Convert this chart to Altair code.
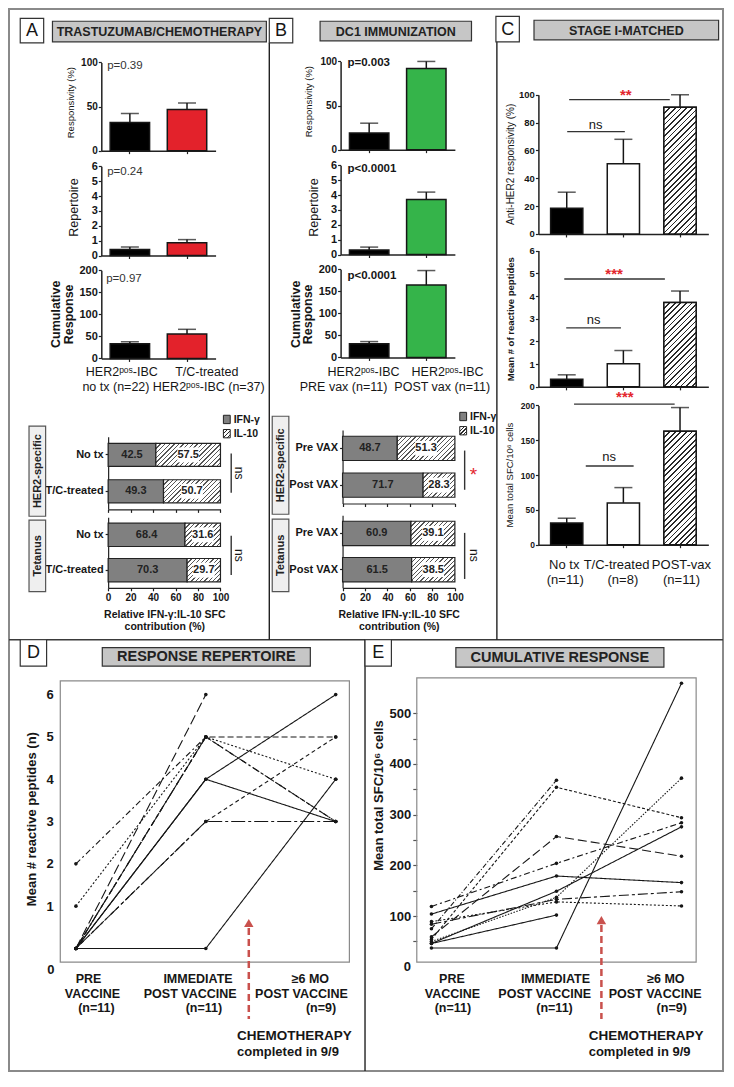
import math
import altair as alt
import pandas as pd

# ---------------- canvas / reference-pixel mapping ----------------
W, H = 716, 1064
SX = (W - 2) / 731.0
SY = (H - 2) / 1083.5
FONT = "Liberation Sans"
INK = "#161616"
RED_TXT = "#e3262d"
ARROW = "#c9514d"


def X(r):
    return round(1 + (r - 1.5) * SX, 2)


def Y(r):
    return round(1 + (r - 1.5) * SY, 2)


# ---------------- data ----------------
# Panel A: trastuzumab/chemotherapy
a_groups = ["HER2pos-IBC no tx", "T/C-treated HER2pos-IBC"]
a_colors = ["#000000", "#e3222b"]
a_resp = [32, 46.5]
a_resp_err = [10, 7.5]
a_rep = [0.4, 0.85]
a_rep_err = [0.18, 0.22]
a_cum = [33, 55.5]
a_cum_err = [5, 10.5]
a_pvalues = ["p=0.39", "p=0.24", "p=0.97"]

# Panel B: DC1 immunization
b_groups = ["HER2pos-IBC PRE vax", "HER2pos-IBC POST vax"]
b_colors = ["#000000", "#35b44a"]
b_resp = [19, 92]
b_resp_err = [11, 8]
b_rep = [0.3, 3.7]
b_rep_err = [0.2, 0.5]
b_cum = [31, 164]
b_cum_err = [5, 33]
b_pvalues = ["p=0.003", "p<0.0001", "p<0.0001"]

# Panel C: stage I-matched
c_groups = ["No tx", "T/C-treated", "POST-vax"]
c_counts = ["(n=11)", "(n=8)", "(n=11)"]
c_colors = ["#000000", "#ffffff", "#ffffff"]
c_resp = [18.5, 50.5, 91]
c_resp_err = [11.5, 17.5, 9]
c_rep = [0.33, 1.02, 3.72]
c_rep_err = [0.2, 0.58, 0.5]
c_cum = [31, 60, 163]
c_cum_err = [7, 22, 34]

# IFN-gamma : IL-10 ratios (IFN-gamma share, %)
ratio_a_rows = ["No tx", "T/C-treated"]
ratio_b_rows = ["Pre VAX", "Post VAX"]
a_her2_ifn = [42.5, 49.3]
a_tet_ifn = [68.4, 70.3]
b_her2_ifn = [48.7, 71.7]
b_tet_ifn = [60.9, 61.5]

# Panels D/E: per-patient kinetics (pre, immediate post, >=6 mo post)
timepoints = [0, 1, 2]
d_pre = [2, 1, 0, 0, 0, 0, 0, 0, 0, 0, 0]
d_post = [5, 5, 6, 5, 5, 5, 4, 4, 3, 3, 0]
d_6mo = [3, 4, None, 5, 3, None, 6, 3, 5, 3, 4]

e_pre = [37, 54, 119, 59, 104, 46, 50, 84, 89, 46, 75]
e_post = [37, 354, 204, 257, 179, 149, 137, 133, 128, 102, 368]
e_6mo = [559, 294, 284, 218, 166, 276, 372, 148, 120, None, None]

# line styles
d_dashes = [[6, 3, 2, 3], [2, 2], [10, 4], [6, 3], [8, 3, 2, 3], [5, 3],
            [1, 0], [1, 0], [4, 3], [14, 3, 3, 3], [1, 0]]
e_dashes = [[1, 0], [3, 2], [6, 3, 2, 3], [9, 4], [1, 0], [1, 0],
            [1.5, 1.5], [10, 3, 3, 3], [2, 2], [1, 0], [5, 2, 1, 2]]

ONE = pd.DataFrame({"k": [0]})
SUP = "\u1d56\u1d52\u02e2"


# ---------------- helpers ----------------
def hatch(w, h, period=3.6, frac=0.32, dark="#2a2a2a", light="#ffffff"):
    w = max(w, 1.0)
    h = max(h, 1.0)
    k = (w + h) / (w * w + h * h)
    x2, y2 = w * k, h * k
    L = (w + h) / math.sqrt(2)
    n = max(1, int(round(L / period)))
    stops = []
    for i in range(n):
        a = round(i / n, 5)
        b = round((i + frac) / n, 5)
        c = round((i + 1) / n, 5)
        stops += [alt.GradientStop(offset=a, color=dark),
                  alt.GradientStop(offset=b, color=dark),
                  alt.GradientStop(offset=b, color=light),
                  alt.GradientStop(offset=c, color=light)]
    return alt.LinearGradient(gradient="linear", stops=stops, x1=0, y1=0,
                              x2=round(x2, 5), y2=round(y2, 5))


def txt(s, x, y, size=12, weight="normal", align="center", angle=None,
        color=INK, baseline="middle"):
    kw = dict(text=s, fontSize=size, fontWeight=weight, align=align,
              baseline=baseline, color=color, font=FONT)
    if angle is not None:
        kw["angle"] = angle
    return alt.Chart(ONE).mark_text(**kw).encode(x=alt.value(X(x)), y=alt.value(Y(y)))


def box(x0, y0, x1, y1, fill="white", stroke="#333333", sw=1.2, fo=1):
    return alt.Chart(ONE).mark_rect(fill=fill, fillOpacity=fo, stroke=stroke,
                                    strokeWidth=sw).encode(
        x=alt.value(X(x0)), x2=alt.value(X(x1)), y=alt.value(Y(y0)), y2=alt.value(Y(y1)))


def line(x0, y0, x1, y1, color="#222222", sw=1.4, dash=None):
    kw = dict(color=color, strokeWidth=sw)
    if dash:
        kw["strokeDash"] = dash
    return alt.Chart(ONE).mark_rule(**kw).encode(
        x=alt.value(X(x0)), x2=alt.value(X(x1)), y=alt.value(Y(y0)), y2=alt.value(Y(y1)))


def bar_panel(groups, vals, errs, colors, ymax, yticks, yr, xr, pi, lab_size,
              hatch_idx=None, notes=()):
    df = pd.DataFrame({"grp": groups, "v": vals,
                       "hi": [v + e for v, e in zip(vals, errs)], "col": colors})
    xs = alt.Scale(domain=groups, range=[X(xr[0]), X(xr[1])],
                   paddingInner=pi, paddingOuter=pi / 2)
    ys = alt.Scale(domain=[0, ymax], range=[Y(yr[0]), Y(yr[1])], nice=False, zero=False)
    xax = alt.Axis(orient="bottom", offset=round(Y(yr[0]) - H, 2), labels=False,
                   title=None, tickSize=3, domainWidth=1.5)
    yax = alt.Axis(orient="left", offset=-X(xr[0]), values=yticks, title=None,
                   tickSize=3, labelPadding=1, labelFontSize=lab_size,
                   labelFontWeight="bold", domainWidth=1.5)
    xe = alt.X("grp:N", scale=xs, axis=xax)
    base = alt.Chart(df)
    layers = [base.mark_bar(stroke=INK, strokeWidth=1.5).encode(
        x=xe, y=alt.Y("v:Q", scale=ys, axis=yax), fill=alt.Fill("col:N", scale=None))]
    if hatch_idx is not None:
        n = len(groups)
        bw = (xr[1] - xr[0]) / n * (1 - pi) * SX
        hpx = vals[hatch_idx] / ymax * (yr[0] - yr[1]) * SY
        layers.append(alt.Chart(df.iloc[[hatch_idx]]).mark_bar(
            fill=hatch(bw, hpx, period=4.0, frac=0.3), stroke=INK, strokeWidth=1.5).encode(
            x=xe, y=alt.Y("v:Q", scale=ys, axis=yax)))
    layers.append(base.mark_rule(color=INK, strokeWidth=1.5).encode(
        x=xe, y=alt.Y("v:Q", scale=ys, axis=yax), y2=alt.Y2("hi")))
    layers.append(base.mark_tick(color=INK, size=18, thickness=1.5).encode(
        x=xe, y=alt.Y("hi:Q", scale=ys, axis=yax)))
    for note in notes:
        if note[0] == "rule":
            _, x0, x1, val = note
            layers.append(alt.Chart(ONE).mark_rule(color="#333333", strokeWidth=1.3).encode(
                x=alt.value(X(x0)), x2=alt.value(X(x1)),
                y=alt.Y(datum=val, type="quantitative", scale=ys, axis=yax)))
        else:
            _, s, x, val, size, color = note
            layers.append(alt.Chart(ONE).mark_text(
                text=s, fontSize=size, color=color, font=FONT, baseline="middle",
                fontWeight="bold" if "*" in s else "normal").encode(
                x=alt.value(X(x)),
                y=alt.Y(datum=val, type="quantitative", scale=ys, axis=yax)))
    return alt.layer(*layers)


def ratio_panel(rows, ifn, xr, yr, pi, po, show_labels, title=None):
    il = [round(100 - v, 1) for v in ifn]
    n = len(rows)
    df = pd.DataFrame({"row": rows, "zero": [0] * n, "ifn": ifn, "full": [100] * n,
                       "mid_ifn": [v / 2 for v in ifn],
                       "mid_il": [(v + 100) / 2 for v in ifn],
                       "t_ifn": [f"{v:.1f}" for v in ifn],
                       "t_il": [f"{v:.1f}" for v in il]})
    xs = alt.Scale(domain=[0, 100], range=[X(xr[0]), X(xr[1])], nice=False, zero=False)
    ys = alt.Scale(domain=rows, range=[Y(yr[0]), Y(yr[1])],
                   paddingInner=pi, paddingOuter=po)
    xkw = dict(orient="bottom", offset=round(Y(yr[1]) - H, 2),
               values=[0, 20, 40, 60, 80, 100], labels=show_labels, tickSize=3,
               labelFontSize=10, labelFontWeight="bold", labelPadding=2,
               domainWidth=1.2)
    if title:
        xkw.update(title=title, titleFontSize=10.5, titleFontWeight="bold",
                   titlePadding=7, titleLineHeight=12, titleColor=INK)
    else:
        xkw.update(title=None)
    xax = alt.Axis(**xkw)
    yax = alt.Axis(orient="left", offset=-X(xr[0]), title=None, tickSize=3,
                   labelFontSize=11, labelFontWeight="bold", labelPadding=2,
                   domainWidth=1.2)
    ye = alt.Y("row:N", scale=ys, axis=yax)
    step = (yr[1] - yr[0]) / (n - pi + 2 * po)
    bw = step * (1 - pi) * SY
    layers = [alt.Chart(df).mark_bar(fill="#808080", stroke="#222222", strokeWidth=1.2).encode(
        y=ye, x=alt.X("zero:Q", scale=xs, axis=xax), x2=alt.X2("ifn"))]
    for i in range(n):
        w = il[i] / 100 * (xr[1] - xr[0]) * SX
        layers.append(alt.Chart(df.iloc[[i]]).mark_bar(
            fill=hatch(w, bw, period=3.2, frac=0.3, dark="#555555"),
            stroke="#222222", strokeWidth=1.2).encode(
            y=ye, x=alt.X("ifn:Q", scale=xs, axis=xax), x2=alt.X2("full")))
    layers.append(alt.Chart(df).mark_point(
        shape="M-1.45,-1L1.45,-1L1.45,1L-1.45,1Z", size=225, filled=True,
        fill="white", opacity=1, strokeWidth=0).encode(
        y=ye, x=alt.X("mid_il:Q", scale=xs, axis=xax)))
    layers.append(alt.Chart(df).mark_text(fontSize=11, fontWeight="bold", color="#222222",
                                          baseline="middle", font=FONT).encode(
        y=ye, x=alt.X("mid_ifn:Q", scale=xs, axis=xax), text="t_ifn:N"))
    layers.append(alt.Chart(df).mark_text(fontSize=11, fontWeight="bold", color="#222222",
                                          baseline="middle", font=FONT).encode(
        y=ye, x=alt.X("mid_il:Q", scale=xs, axis=xax), text="t_il:N"))
    return alt.layer(*layers)


def line_panel(series, dashes, xr, yr, ydom, yax, zero_val, zero_x):
    rows = []
    npat = len(series[0])
    pids = [f"p{i:02d}" for i in range(npat)]
    for i, vals in enumerate(zip(*series)):
        for t, v in zip(timepoints, vals):
            if v is not None:
                rows.append({"pid": pids[i], "t": t, "v": v})
    df = pd.DataFrame(rows)
    xs = alt.Scale(domain=[0, 2], range=[X(xr[0]), X(xr[1])], nice=False, zero=False)
    ys = alt.Scale(domain=ydom, range=[Y(yr[0]), Y(yr[1])], nice=False, zero=False)
    xe = alt.X("t:Q", scale=xs, axis=None)
    lines = alt.Chart(df).mark_line(color=INK, strokeWidth=1.1).encode(
        x=xe, y=alt.Y("v:Q", scale=ys, axis=yax),
        strokeDash=alt.StrokeDash("pid:N", scale=alt.Scale(domain=pids, range=dashes),
                                  legend=None),
        order="t:Q")
    pts = alt.Chart(df).mark_circle(size=13, color=INK, opacity=1).encode(
        x=xe, y=alt.Y("v:Q", scale=ys, axis=yax))
    zero = alt.Chart(ONE).mark_text(text="0", fontSize=13, fontWeight="bold", align="right",
                                    baseline="middle", color=INK, font=FONT).encode(
        x=alt.value(X(zero_x)),
        y=alt.Y(datum=zero_val, type="quantitative", scale=ys, axis=yax))
    return alt.layer(lines, pts, zero)


L = []

# ---------------- frame, dividers, headers ----------------
L.append(box(1.5, 1.5, 732.5, 1085, fill="white", stroke="#8a8a8a", sw=2, fo=0))
L.append(line(1.5, 645, 732.5, 645, color="#3a3a3a", sw=1.6))
L.append(line(268, 36, 268, 645))
L.append(line(501, 35, 501, 645))
L.append(line(366, 645, 366, 1085))

for (x0, y0, x1, y1, lab) in [(13, 11, 37, 36, "A"), (268, 11, 292, 36, "B"),
                              (500, 9, 524, 35, "C"), (13, 645, 40, 672, "D"),
                              (366, 645, 393, 672, "E")]:
    L.append(box(x0, y0, x1, y1, fill="white", stroke="#333333", sw=1.2))
    L.append(txt(lab, (x0 + x1) / 2, (y0 + y1) / 2 + 0.5, size=18))

for (x0, y0, x1, y1, lab, fs) in [(46, 14, 265, 35, "TRASTUZUMAB/CHEMOTHERAPY", 12.5),
                                  (320, 14, 475, 34, "DC1 IMMUNIZATION", 12.5),
                                  (539, 13, 728, 33, "STAGE I-MATCHED", 12.5),
                                  (97, 653, 310, 672, "RESPONSE REPERTOIRE", 14.5),
                                  (459, 653, 672, 673, "CUMULATIVE RESPONSE", 14.5)]:
    L.append(box(x0, y0, x1, y1, fill="#c6c6c6", stroke="#333333", sw=1.2))
    L.append(txt(lab, (x0 + x1) / 2, (y0 + y1) / 2 + 0.5, size=fs, weight="bold",
                 color="#222222"))

# ---------------- Panel A ----------------
L.append(bar_panel(a_groups, a_resp, a_resp_err, a_colors, 100, [0, 50, 100],
                   (146, 56), (96, 213), 0.31, 10))
L.append(bar_panel(a_groups, a_rep, a_rep_err, a_colors, 6, [0, 1, 2, 3, 4, 5, 6],
                   (253, 162), (96, 213), 0.31, 11))
L.append(bar_panel(a_groups, a_cum, a_cum_err, a_colors, 200, [0, 50, 100, 150, 200],
                   (358, 268), (96, 213), 0.31, 11))
L.append(txt(a_pvalues[0], 102, 60, size=11.5, align="left", color="#333333"))
L.append(txt(a_pvalues[1], 102, 168, size=11.5, align="left", color="#333333"))
L.append(txt(a_pvalues[2], 101, 277, size=11.5, align="left", color="#333333"))
L.append(txt("Responsivity (%)", 65, 97, size=9.5, angle=270))
L.append(txt("Repertoire", 68, 204, size=12.5, angle=270))
L.append(txt("Cumulative", 50, 313, size=12.5, weight="bold", angle=270))
L.append(txt("Response", 62.5, 313, size=12.5, weight="bold", angle=270))
L.append(txt("HER2" + SUP + "-IBC", 117, 372, size=12.5))
L.append(txt("T/C-treated", 204, 372, size=12.5))
L.append(txt("no tx (n=22)", 111, 387, size=12.5))
L.append(txt("HER2" + SUP + "-IBC (n=37)", 206, 387, size=12.5))

# ---------------- Panel B ----------------
L.append(bar_panel(b_groups, b_resp, b_resp_err, b_colors, 100, [0, 50, 100],
                   (145, 55), (341, 458), 0.31, 10))
L.append(bar_panel(b_groups, b_rep, b_rep_err, b_colors, 6, [0, 1, 2, 3, 4, 5, 6],
                   (252, 161), (341, 458), 0.31, 11))
L.append(bar_panel(b_groups, b_cum, b_cum_err, b_colors, 200, [0, 50, 100, 150, 200],
                   (357, 267), (341, 458), 0.31, 11))
L.append(txt(b_pvalues[0], 348, 57, size=11.5, weight="bold", align="left"))
L.append(txt(b_pvalues[1], 348, 165, size=11.5, weight="bold", align="left"))
L.append(txt(b_pvalues[2], 348, 274, size=11.5, weight="bold", align="left"))
L.append(txt("Responsivity (%)", 309, 96, size=9.5, angle=270))
L.append(txt("Repertoire", 314, 204, size=12.5, angle=270))
L.append(txt("Cumulative", 295, 313, size=12.5, weight="bold", angle=270))
L.append(txt("Response", 307.5, 313, size=12.5, weight="bold", angle=270))
L.append(txt("HER2" + SUP + "-IBC", 364.5, 372, size=12.5))
L.append(txt("HER2" + SUP + "-IBC", 450.5, 372, size=12.5))
L.append(txt("PRE vax (n=11)", 344, 387, size=12.5))
L.append(txt("POST vax (n=11)", 445, 387, size=12.5))

# ---------------- ratio panels (A and B) ----------------
RTITLE = ["Relative IFN-\u03b3:IL-10 SFC", "contribution (%)"]
L.append(ratio_panel(ratio_a_rows, a_her2_ifn, (103, 218), (438, 512), 0.365, 0.18, False))
L.append(ratio_panel(ratio_a_rows, a_tet_ifn, (103, 218), (520, 592), 0.34, 0.17, True, RTITLE))
L.append(ratio_panel(ratio_b_rows, b_her2_ifn, (343, 458), (431, 506), 0.34, 0.17, False))
L.append(ratio_panel(ratio_b_rows, b_tet_ifn, (343, 458), (518, 592), 0.33, 0.165, True, RTITLE))

for (lx, ly) in [(221, 416), (463, 413)]:
    L.append(box(lx, ly, lx + 7, ly + 8.5, fill="#808080", stroke="#222222", sw=1))
    L.append(box(lx, ly + 14.5, lx + 7, ly + 23, fill=hatch(7 * SX, 8.5 * SY, period=2.6),
                 stroke="#222222", sw=1))
    L.append(txt("IFN-\u03b3", lx + 10.5, ly + 4.5, size=10.5, weight="bold", align="left"))
    L.append(txt("IL-10", lx + 10.5, ly + 19, size=10.5, weight="bold", align="left"))

for (x0, y0, x1, y1, lab) in [(22, 427, 39, 519, "HER2-specific"), (22, 523, 39, 596, "Tetanus"),
                              (271, 417, 288, 517, "HER2-specific"),
                              (271, 522, 288, 596, "Tetanus")]:
    L.append(box(x0, y0, x1, y1, fill="#efefef", stroke="#555555", sw=1.2))
    L.append(txt(lab, (x0 + x1) / 2 + 0.5, (y0 + y1) / 2, size=11, weight="bold",
                 angle=270, color="#222222"))

L.append(line(229, 455, 229, 495, color="#333333", sw=1.4))
L.append(txt("ns", 237, 475, size=12, angle=90))
L.append(line(229, 539, 229, 579, color="#333333", sw=1.4))
L.append(txt("ns", 237, 559, size=12, angle=90))
L.append(line(468, 452, 468, 492, color="#333333", sw=1.4))
L.append(txt("*", 477, 477, size=19, color=RED_TXT))
L.append(line(468, 536, 468, 583, color="#333333", sw=1.4))
L.append(txt("ns", 478, 559, size=12, angle=90))

# ---------------- Panel C ----------------
L.append(bar_panel(c_groups, c_resp, c_resp_err, c_colors, 100, [0, 20, 40, 60, 80, 100],
                   (231, 89), (543.5, 717.5), 0.431, 9.5, hatch_idx=2,
                   notes=[("rule", 575, 678, 96.5), ("text", "**", 633, 99.5, 15, RED_TXT),
                          ("rule", 573, 632, 73.5), ("text", "ns", 602, 78.5, 13, INK)]))
L.append(bar_panel(c_groups, c_rep, c_rep_err, c_colors, 6, [0, 1, 2, 3, 4, 5, 6],
                   (387, 248), (543.5, 717.5), 0.431, 9.5, hatch_idx=2,
                   notes=[("rule", 570, 673, 4.75), ("text", "***", 621, 4.97, 15, RED_TXT),
                          ("rule", 572, 628, 2.6), ("text", "ns", 600, 2.93, 13, INK)]))
L.append(bar_panel(c_groups, c_cum, c_cum_err, c_colors, 200, [0, 50, 100, 150, 200],
                   (548, 406), (543.5, 717.5), 0.431, 8.5, hatch_idx=2,
                   notes=[("rule", 580, 683, 202), ("text", "***", 632, 212, 15, RED_TXT),
                          ("rule", 592, 641, 113), ("text", "ns", 616, 126, 13, INK)]))
L.append(txt("Anti-HER2 responsivity (%)", 515, 160, size=10, angle=270))
L.append(txt("Mean # of reactive peptides", 515, 318, size=9.5, weight="bold", angle=270))
L.append(txt("Mean total SFC/10\u2076 cells", 514, 477, size=9.5, angle=270))
for (s, x) in zip(c_groups, [570, 623.5, 690]):
    L.append(txt(s, x, 569, size=13))
for (s, x) in zip(c_counts, [571, 630, 690]):
    L.append(txt(s, x, 584, size=13))

# ---------------- Panel D ----------------
L.append(box(54, 687, 350, 974, fill="white", stroke="#8a8a8a", sw=1.2, fo=0))
d_yax = alt.Axis(orient="left", offset=-X(54), values=[1, 2, 3, 4, 5, 6], ticks=False,
                 domain=False, labelPadding=7, labelFontSize=13, labelFontWeight="bold",
                 title=None)
L.append(line_panel([d_pre, d_post, d_6mo], d_dashes, (70, 336), (960, 701), [0, 6],
                    d_yax, -0.5, 48))
L.append(txt("Mean # reactive peptides (n)", 25, 828, size=13, weight="bold", angle=270))

# ---------------- Panel E ----------------
L.append(box(419, 684, 705, 974, fill="white", stroke="#8a8a8a", sw=1.2, fo=0))
e_yax = alt.Axis(orient="left", offset=-X(419), values=list(range(50, 600, 50)),
                 labelExpr="datum.value % 100 == 0 ? datum.label : ''",
                 domain=False, tickSize=4, tickColor="#555555", labelPadding=2,
                 labelFontSize=13, labelFontWeight="bold", title=None)
L.append(line_panel([e_pre, e_post, e_6mo], e_dashes, (434, 690), (978.7, 720), [0, 500],
                    e_yax, 0, 413))
L.append(txt("Mean total SFC/10\u2076 cells", 380, 804, size=13, weight="bold", angle=270))

# x labels, chemotherapy arrows (D and E)
for (dx, pos) in [(0, [(83, 87, 91), (195, 187, 201), (310, 301, 321)]),
                  (1, [(455, 455.5, 456), (561, 550, 560), (674, 663, 680)])]:
    names = [("PRE", "VACCINE", "(n=11)"), ("IMMEDIATE", "POST VACCINE", "(n=11)"),
             ("\u22656 MO", "POST VACCINE", "(n=9)")]
    for (l1, l2, l3), (x1, x2, x3) in zip(names, pos):
        L.append(txt(l1, x1, 991, size=12.5, weight="bold"))
        L.append(txt(l2, x2, 1006, size=12.5, weight="bold"))
        L.append(txt(l3, x3, 1021, size=12.5, weight="bold"))

for (ax, tip, tx) in [(247, 934, 235), (608, 931, 595)]:
    L.append(line(ax, tip + 5, ax, 1032, color=ARROW, sw=2.5, dash=[7, 4]))
    L.append(alt.Chart(ONE).mark_point(shape="triangle-up", filled=True, color=ARROW,
                                       size=90, opacity=1).encode(
        x=alt.value(X(ax)), y=alt.value(Y(tip))))
    L.append(txt("CHEMOTHERAPY", tx, 1049, size=13.5, weight="bold", align="left"))
    L.append(txt("completed in 9/9", tx, 1066, size=13, weight="bold", align="left"))

chart = (
    alt.layer(*L)
    .resolve_scale(x="independent", y="independent", strokeDash="independent")
    .properties(width=W, height=H, autosize=alt.AutoSizeParams(type="none"), padding=0,
                background="white")
    .configure_view(stroke=None)
    .configure_axis(grid=False, labelFont=FONT, titleFont=FONT, domainColor="#222222",
                    tickColor="#222222", labelColor=INK, titleColor=INK, labelFlush=False,
                    labelOverlap=False, tickWidth=1.2)
    .configure_text(font=FONT)
)

chart.save("out.html", embed_options={"renderer": "svg", "actions": False})
